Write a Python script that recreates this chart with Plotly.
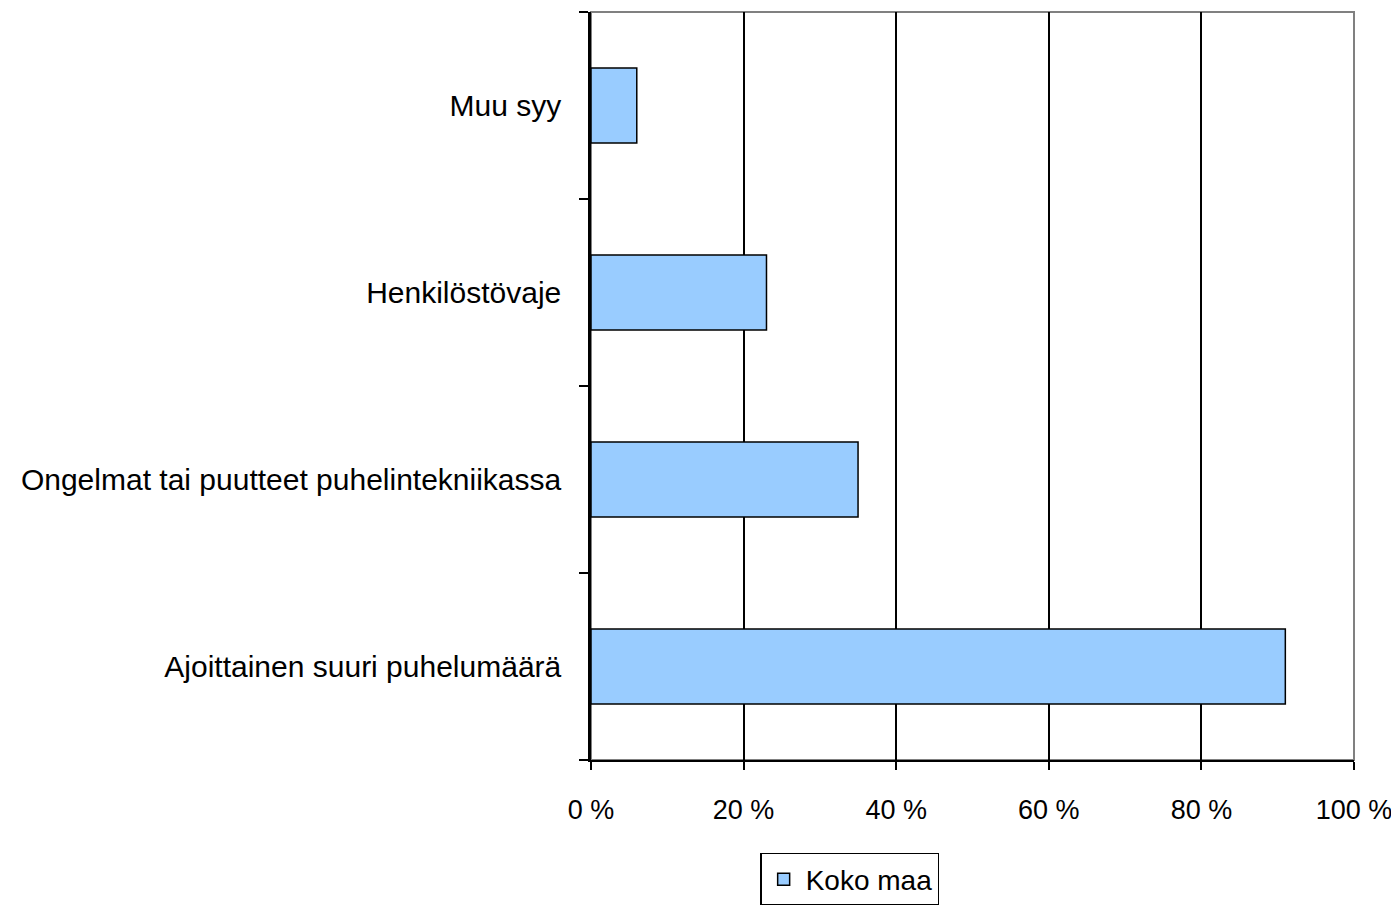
import plotly.graph_objects as go

categories = ["Ajoittainen suuri puhelumäärä",
              "Ongelmat tai puutteet puhelintekniikassa",
              "Henkilöstövaje",
              "Muu syy"]
values = [91, 35, 23, 6]
series_name = "Koko maa"
tick_vals = [0, 20, 40, 60, 80, 100]
tick_text = ["0 %", "20 %", "40 %", "60 %", "80 %", "100 %"]

# page body has an 8px margin; figure sized to fill the rest of the window
W, H = 1391, 897
L, R, T, B = 583, 45, 4, 145

fig = go.Figure()
fig.add_trace(go.Bar(
    x=values, y=categories, orientation="h", name=series_name,
    marker=dict(color="#99CCFF", line=dict(color="black", width=1.5)),
    width=0.4, showlegend=True,
))

font = dict(family="Liberation Sans, Arial, sans-serif", size=30, color="black")

fig.update_layout(
    width=W, height=H,
    margin=dict(l=L, r=R, t=T, b=B, pad=0, autoexpand=False),
    paper_bgcolor="white", plot_bgcolor="white",
    font=font,
    showlegend=True,
    legend=dict(orientation="h", x=0.339, xanchor="center",
                yref="container", y=0.058, yanchor="top",
                bordercolor="black", borderwidth=1.5,
                font=dict(family="Liberation Sans, Arial, sans-serif", size=28, color="black"),
                itemwidth=34, tracegroupgap=0),
    shapes=[dict(type="rect", xref="paper", yref="paper", x0=0, x1=1, y0=0, y1=1,
                 line=dict(color="#808080", width=2), layer="below")],
)
fig.update_xaxes(range=[0, 100], tickvals=tick_vals, ticktext=tick_text,
                 showgrid=True, gridcolor="black", gridwidth=1.5,
                 showline=True, linecolor="black", linewidth=2,
                 ticks="outside", ticklen=8, tickcolor="black", tickwidth=1.5,
                 ticklabelstandoff=17, zeroline=False, fixedrange=True,
                 tickfont=dict(size=27))
fig.update_yaxes(range=[-0.5, 3.5], type="category", showgrid=False,
                 showline=True, linecolor="black", linewidth=2.5,
                 ticks="outside", ticklen=9, tickcolor="black", tickwidth=1.5,
                 tickson="boundaries", ticklabelstandoff=21,
                 zeroline=False, fixedrange=True)

fig.write_html("out.html")
